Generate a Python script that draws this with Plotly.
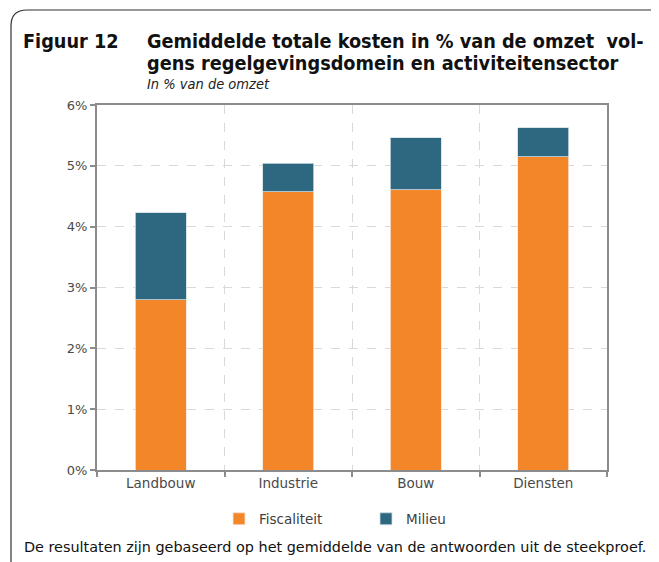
import plotly.graph_objects as go

categories = ["Landbouw", "Industrie", "Bouw", "Diensten"]
fiscaliteit = [2.80, 4.57, 4.61, 5.15]
milieu = [1.43, 0.47, 0.85, 0.48]
y_ticks = [0, 1, 2, 3, 4, 5, 6]

OFF = 8  # default page body margin
W, H = 659 - OFF, 562 - OFF
# plot area in screen pixels
L, R, T, B = 97, 607, 105, 470

def px(x):
    return (x - L) / (R - L)

def py(y):
    return (B - y) / (B - T)

tick_font = "DejaVu Sans, sans-serif"
title_fam = "DejaVu Sans Condensed, DejaVu Sans, sans-serif"

fig = go.Figure()
fig.add_trace(go.Bar(x=categories, y=fiscaliteit, name="Fiscaliteit",
                     marker=dict(color="#F4862A", line=dict(color="#f7e6d8", width=0.8)),
                     width=0.4))
fig.add_trace(go.Bar(x=categories, y=milieu, name="Milieu",
                     marker=dict(color="#2E6880", line=dict(color="#cfdde3", width=0.8)),
                     width=0.4))

border = "M {x0},{y0} L {x0},{y1} Q {x0},{y2} {x3},{y2} L {x4},{y2}".format(
    x0=px(11), y0=py(570), y1=py(26), y2=py(10), x3=px(27), x4=px(670))

fig.update_layout(
    width=W, height=H,
    barmode="stack",
    plot_bgcolor="white", paper_bgcolor="white",
    margin=dict(l=L - OFF, r=(W + OFF) - R, t=T - OFF, b=(H + OFF) - B),
    showlegend=True,
    legend=dict(orientation="h", x=px(219), xanchor="left", y=py(519), yanchor="middle",
                font=dict(family=tick_font, size=13.5, color="#404040"),
                entrywidth=102, itemwidth=30, traceorder="normal"),
    xaxis=dict(type="category", tickson="boundaries", showgrid=True,
               gridcolor="#d9d9d9", griddash="dash", gridwidth=1,
               showline=True, linecolor="#8c8c8c", linewidth=2, mirror=True,
               ticks="outside", ticklen=5, tickcolor="#8c8c8c", tickwidth=1.5,
               tickfont=dict(family=tick_font, size=13.5, color="#4a4a4a")),
    yaxis=dict(range=[0, 6], tickvals=y_ticks, ticktext=[f"{v}%" for v in y_ticks],
               showgrid=True, gridcolor="#d9d9d9", griddash="dash", gridwidth=1,
               showline=True, linecolor="#8c8c8c", linewidth=2, mirror=True,
               ticks="outside", ticklen=5, tickcolor="#8c8c8c", tickwidth=1.5,
               zeroline=False,
               tickfont=dict(family=tick_font, size=13, color="#4a4a4a")),
    shapes=[dict(type="path", path=border, xref="paper", yref="paper",
                 line=dict(color="#333333", width=1.2))],
)

title_font = dict(family=title_fam, size=19.7, color="#111111")
fig.add_annotation(text="<b>Figuur 12</b>", x=px(21), y=py(41), xref="paper", yref="paper",
                   xanchor="left", yanchor="middle", showarrow=False, font=title_font)
fig.add_annotation(text="<b>Gemiddelde totale kosten in % van de omzet  vol-</b>",
                   x=px(145), y=py(41), xref="paper", yref="paper",
                   xanchor="left", yanchor="middle", showarrow=False, font=title_font)
fig.add_annotation(text="<b>gens regelgevingsdomein en activiteitensector</b>",
                   x=px(145), y=py(63), xref="paper", yref="paper",
                   xanchor="left", yanchor="middle", showarrow=False, font=title_font)
fig.add_annotation(text="<i>In % van de omzet</i>",
                   x=px(145), y=py(84), xref="paper", yref="paper",
                   xanchor="left", yanchor="middle", showarrow=False,
                   font=dict(family=title_fam, size=14.5, color="#222222"))
fig.add_annotation(text="De resultaten zijn gebaseerd op het gemiddelde van de antwoorden uit de steekproef.",
                   x=px(22), y=py(547), xref="paper", yref="paper",
                   xanchor="left", yanchor="middle", showarrow=False,
                   font=dict(family=tick_font, size=14.4, color="#111111"))

fig.write_html("out.html")
